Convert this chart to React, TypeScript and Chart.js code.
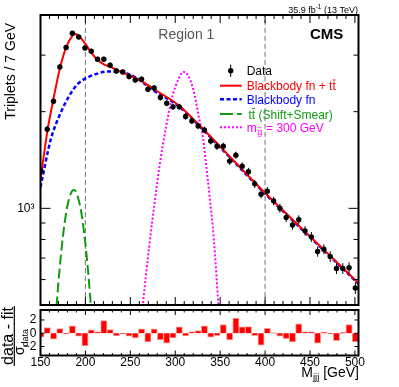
import React, { useEffect, useRef } from 'react';
import { Chart, registerables } from 'chart.js';

Chart.register(...registerables);

const FONT = '"Liberation Sans", Arial, Helvetica, sans-serif';

// ---- data ----
const binCenters = [150.5, 157.5, 164.5, 171.5, 178.5, 185.5, 192.5, 199.5, 206.5, 213.5, 220.5, 227.5, 234.5, 241.5, 248.5, 255.5, 262.5, 269.5, 276.5, 283.5, 290.5, 297.5, 304.5, 311.5, 318.5, 325.5, 332.5, 339.5, 346.5, 353.5, 360.5, 367.5, 374.5, 381.5, 388.5, 395.5, 402.5, 409.5, 416.5, 423.5, 430.5, 437.5, 444.5, 451.5, 458.5, 465.5, 472.5, 479.5, 486.5, 493.5, 500.5];
const dataCounts = [1308, 1764, 2156, 2756, 3168, 3509, 3418, 3158, 3084, 2912, 2912, 2790, 2678, 2659, 2573, 2511, 2523, 2349, 2369, 2214, 2125, 2070, 2070, 1932, 1872, 1806, 1755, 1622, 1561, 1561, 1403, 1464, 1353, 1301, 1192, 1107, 1131, 1055, 1001, 937, 887, 921, 851, 815, 734, 746, 708, 650, 650, 653, 565];
const dataErrors = [36, 42, 46, 52, 56, 59, 58, 56, 56, 54, 54, 53, 52, 52, 51, 50, 50, 48, 49, 47, 46, 45, 45, 44, 43, 42, 42, 40, 40, 40, 37, 38, 37, 36, 35, 33, 34, 32, 32, 31, 30, 30, 29, 29, 27, 27, 27, 25, 25, 26, 24];
const pulls = [-0.6, 0.85, -0.9, 0.7, -0.05, 1.1, -0.45, -1.9, 0.5, 0.2, 1.9, 0.55, -0.4, -0.05, -0.45, -0.7, 0.65, -1.3, 0.65, -1.0, -1.5, -0.7, 0.95, -0.4, 0.2, 0.4, 1.1, -0.6, -0.35, 1.3, -1.0, 2.3, 0.95, 1.0, -0.35, -1.8, 0.75, 0.05, -0.45, -0.8, -1.3, 1.4, 0.2, 0.2, -1.5, 0.15, -0.05, -1.1, 0.1, 1.3, -1.3];

const fitMass = [150, 157.5, 164.5, 171.5, 178.5, 185.5, 189, 192.5, 199.5, 206.5, 213.5, 220.5, 227.5, 234.5, 248.5, 262.5, 276.5, 304.7, 326.9, 360.3, 395.9, 438.2, 471.6, 504];
const fitValues = [1230, 1728, 2197, 2720, 3171, 3444, 3490, 3444, 3264, 3056, 2901, 2809, 2761, 2699, 2596, 2490, 2349, 2084, 1815, 1453, 1147, 880, 715, 585];

const bkgMass = [150, 161.5, 172.6, 181.9, 191.2, 202.3, 213.4, 224.6, 235.7, 246.8, 257.9, 272.7, 304.7, 326.9, 360.3, 395.9, 438.2, 471.6, 504];
const bkgValues = [1165, 1642, 1988, 2239, 2435, 2555, 2628, 2667, 2667, 2628, 2537, 2360, 2070, 1805, 1445, 1140, 875, 712, 582];

const ttbarMass = [155, 160, 165, 170, 175, 180, 185, 187, 190, 195, 200, 205, 210, 215];
const ttbarValues = [110, 216, 378, 589, 820, 1019, 1130, 1140, 1117, 985, 775, 544, 341, 190];

const signalMass = [258, 264, 271, 279, 282.5, 290, 297, 304, 309, 314, 320, 327, 331, 334.5, 338, 343, 348, 354];
const signalValues = [330, 503, 760, 1147, 1356, 1806, 2239, 2540, 2660, 2600, 2350, 1880, 1650, 1356, 1107, 800, 503, 300];

const regionEdges = [200, 400];
const X_MIN = 150;
const X_MAX = 504;
const Y_MIN = 500;
const Y_MAX = 4000;
const PULL_MIN = -3.35;
const PULL_MAX = 3.5;
const xMajorTicks = [150, 200, 250, 300, 350, 400, 450, 500];
const yUpperTicks = [600, 700, 800, 900, 1000, 2000, 3000];
const pullTicks = [-2, 0, 2];

const RED = '#ff0000';
const BLUE = '#0000ff';
const GREEN = '#109a10';
const MAGENTA = '#ff00ff';

function pts(xs: number[], ys: number[]) {
  return xs.map((x, i) => ({ x, y: ys[i] }));
}

function drawXTicks(ctx: CanvasRenderingContext2D, xs: any, area: any, majLen: number, minLen: number) {
  ctx.beginPath();
  for (let v = X_MIN; v <= X_MAX; v += 10) {
    const px = xs.getPixelForValue(v);
    const len = v % 50 === 0 ? majLen : minLen;
    ctx.moveTo(px, area.bottom);
    ctx.lineTo(px, area.bottom - len);
    ctx.moveTo(px, area.top);
    ctx.lineTo(px, area.top + len);
  }
  ctx.stroke();
}

function drawTTbar(ctx: CanvasRenderingContext2D, text: string, x: number, y: number) {
  ctx.textAlign = 'left';
  const wt = ctx.measureText('t').width;
  ctx.fillText('tt', x, y);
  ctx.save();
  ctx.strokeStyle = ctx.fillStyle as string;
  ctx.lineWidth = 1;
  ctx.beginPath();
  ctx.moveTo(x + wt + 0.3, y - 10);
  ctx.lineTo(x + 2 * wt - 0.2, y - 10);
  ctx.stroke();
  ctx.restore();
  ctx.fillText(text, x + 2 * wt, y);
}

function noPad(s: any) {
  s.paddingTop = 0;
  s.paddingBottom = 0;
  s.paddingLeft = 0;
  s.paddingRight = 0;
}

const upperPlugin = {
  id: 'upperDecor',
  afterDatasetsDraw(chart: any) {
    const { ctx } = chart;
    const xs = chart.scales.x;
    const ys = chart.scales.y;
    ctx.save();
    ctx.strokeStyle = '#000';
    ctx.lineWidth = 1;
    ctx.beginPath();
    binCenters.forEach((m, i) => {
      const px = xs.getPixelForValue(m);
      ctx.moveTo(px, ys.getPixelForValue(dataCounts[i] - dataErrors[i]));
      ctx.lineTo(px, ys.getPixelForValue(dataCounts[i] + dataErrors[i]));
    });
    ctx.stroke();
    ctx.restore();
  },
  afterDraw(chart: any) {
    const { ctx, chartArea: a } = chart;
    const xs = chart.scales.x;
    const ys = chart.scales.y;
    ctx.save();
    ctx.strokeStyle = '#000';
    ctx.lineWidth = 2;
    ctx.strokeRect(a.left, a.top, a.right - a.left, a.bottom - a.top);
    ctx.lineWidth = 1;
    drawXTicks(ctx, xs, a, 8, 4);
    ctx.beginPath();
    yUpperTicks.forEach((v) => {
      const py = ys.getPixelForValue(v);
      const len = v === 1000 ? 10 : 5;
      ctx.moveTo(a.left, py);
      ctx.lineTo(a.left + len, py);
      ctx.moveTo(a.right, py);
      ctx.lineTo(a.right - len, py);
    });
    ctx.stroke();

    // y title
    ctx.save();
    ctx.translate(0, 23);
    ctx.rotate(-Math.PI / 2);
    ctx.font = `14px ${FONT}`;
    ctx.fillStyle = '#000';
    ctx.textAlign = 'right';
    ctx.textBaseline = 'alphabetic';
    ctx.fillText('Triplets / 7 GeV', 0, 14.5);
    ctx.restore();

    // lumi text
    ctx.fillStyle = '#000';
    ctx.textBaseline = 'alphabetic';
    ctx.font = `9px ${FONT}`;
    const t1 = '35.9 fb';
    const t3 = ' (13 TeV)';
    const w1 = ctx.measureText(t1).width;
    const w3 = ctx.measureText(t3).width;
    ctx.font = `6.5px ${FONT}`;
    const t2 = '-1';
    const w2 = ctx.measureText(t2).width;
    const xEnd = 358;
    const x0 = xEnd - w1 - w2 - w3;
    ctx.textAlign = 'left';
    ctx.font = `9px ${FONT}`;
    ctx.fillText(t1, x0, 12.5);
    ctx.fillText(t3, x0 + w1 + w2, 12.5);
    ctx.font = `6.5px ${FONT}`;
    ctx.fillText(t2, x0 + w1, 9);

    ctx.font = `14px ${FONT}`;
    ctx.fillStyle = '#555555';
    ctx.fillText('Region 1', 158.3, 39);

    ctx.font = `bold 15px ${FONT}`;
    ctx.fillStyle = '#000';
    ctx.fillText('CMS', 310, 39.3);

    // legend
    const LX0 = 220;
    const LX1 = 241.7;
    const TX = 246.7;
    ctx.font = `12px ${FONT}`;
    ctx.fillStyle = '#000';
    ctx.beginPath();
    ctx.arc(230.7, 70.7, 2.7, 0, Math.PI * 2);
    ctx.fill();
    ctx.beginPath();
    ctx.moveTo(230.7, 64.5);
    ctx.lineTo(230.7, 77);
    ctx.stroke();
    ctx.fillText('Data', TX, 75);

    ctx.strokeStyle = RED;
    ctx.lineWidth = 2;
    ctx.beginPath();
    ctx.moveTo(LX0, 85.7);
    ctx.lineTo(LX1, 85.7);
    ctx.stroke();
    ctx.fillStyle = RED;
    const wbb = ctx.measureText('Blackbody fn + ').width;
    ctx.fillText('Blackbody fn + ', TX, 90);
    drawTTbar(ctx, '', TX + wbb, 90);

    ctx.strokeStyle = BLUE;
    ctx.lineWidth = 2.5;
    ctx.setLineDash([4, 2.5]);
    ctx.beginPath();
    ctx.moveTo(LX0, 99.3);
    ctx.lineTo(LX1, 99.3);
    ctx.stroke();
    ctx.fillStyle = BLUE;
    ctx.fillText('Blackbody fn', TX, 103.5);

    ctx.strokeStyle = GREEN;
    ctx.lineWidth = 2;
    ctx.setLineDash([13, 4]);
    ctx.beginPath();
    ctx.moveTo(LX0, 114);
    ctx.lineTo(LX1, 114);
    ctx.stroke();
    ctx.fillStyle = GREEN;
    drawTTbar(ctx, ' (Shift+Smear)', 248.5, 118.5);

    ctx.strokeStyle = MAGENTA;
    ctx.lineWidth = 2;
    ctx.setLineDash([2, 2]);
    ctx.beginPath();
    ctx.moveTo(LX0, 127.3);
    ctx.lineTo(LX1, 127.3);
    ctx.stroke();
    ctx.setLineDash([]);
    ctx.fillStyle = MAGENTA;
    ctx.font = `12px ${FONT}`;
    ctx.fillText('m', TX, 131.5);
    const wm = ctx.measureText('m').width;
    ctx.font = `8.5px ${FONT}`;
    ctx.fillText('g', TX + wm + 0.8, 135);
    const wg = ctx.measureText('g').width;
    ctx.font = `8px ${FONT}`;
    ctx.fillText('~', TX + wm + 0.8, 130);
    ctx.font = `12px ${FONT}`;
    ctx.fillText(' = 300 GeV', TX + wm + 0.8 + wg + 0.5, 131.5);

    ctx.restore();
  },
};

const lowerPlugin = {
  id: 'lowerDecor',
  afterDraw(chart: any) {
    const { ctx, chartArea: a } = chart;
    const xs = chart.scales.x;
    const ys = chart.scales.y;
    ctx.save();
    ctx.strokeStyle = '#000';
    ctx.lineWidth = 2;
    ctx.strokeRect(a.left, a.top, a.right - a.left, a.bottom - a.top);
    ctx.lineWidth = 1;
    drawXTicks(ctx, xs, a, 5, 2.5);
    ctx.beginPath();
    pullTicks.forEach((v) => {
      const py = ys.getPixelForValue(v);
      ctx.moveTo(a.left, py);
      ctx.lineTo(a.left + 4, py);
      ctx.moveTo(a.right, py);
      ctx.lineTo(a.right - 4, py);
    });
    ctx.stroke();

    // x title: M_jjj [GeV]
    ctx.fillStyle = '#000';
    ctx.textBaseline = 'alphabetic';
    ctx.textAlign = 'left';
    ctx.font = `14px ${FONT}`;
    const wM = ctx.measureText('M').width;
    const wG = ctx.measureText(' [GeV]').width;
    ctx.font = `9.5px ${FONT}`;
    const wj = ctx.measureText('jjj').width;
    const xr = 359;
    const xs0 = xr - wM - wj - wG;
    const base = 76.7;
    ctx.font = `14px ${FONT}`;
    ctx.fillText('M', xs0, base);
    ctx.fillText(' [GeV]', xs0 + wM + wj, base);
    ctx.font = `9.5px ${FONT}`;
    ctx.fillText('jjj', xs0 + wM, base + 3.5);

    // y title fraction
    ctx.save();
    ctx.translate(0, 36);
    ctx.rotate(-Math.PI / 2);
    ctx.font = `16px ${FONT}`;
    ctx.textAlign = 'center';
    ctx.fillText('data - fit', 0, 12.5);
    const wn = ctx.measureText('data - fit').width;
    ctx.strokeStyle = '#000';
    ctx.lineWidth = 1.2;
    ctx.beginPath();
    ctx.moveTo(-wn / 2 - 1, 14.3);
    ctx.lineTo(wn / 2 + 1, 14.3);
    ctx.stroke();
    ctx.restore();

    ctx.save();
    ctx.translate(0, 42);
    ctx.rotate(-Math.PI / 2);
    ctx.textAlign = 'left';
    ctx.font = `14px ${FONT}`;
    const ws = ctx.measureText('σ').width;
    ctx.font = `9px ${FONT}`;
    const wd = ctx.measureText('data').width;
    const u0 = -(ws + wd) / 2;
    ctx.font = `14px ${FONT}`;
    ctx.fillText('σ', u0, 23.5);
    ctx.font = `9px ${FONT}`;
    ctx.fillText('data', u0 + ws, 27.5);
    ctx.restore();

    ctx.restore();
  },
};

export default function App() {
  const upperRef = useRef<HTMLCanvasElement>(null);
  const lowerRef = useRef<HTMLCanvasElement>(null);

  useEffect(() => {
    const upper = new Chart(upperRef.current as HTMLCanvasElement, {
      type: 'line',
      data: {
        datasets: [
          {
            label: 'Data',
            data: pts(binCenters, dataCounts),
            showLine: false,
            pointRadius: 2.7,
            pointBackgroundColor: '#000',
            pointBorderColor: '#000',
            pointBorderWidth: 0,
            order: 0,
          } as any,
          {
            label: 'Blackbody fn + tt',
            data: pts(fitMass, fitValues),
            borderColor: RED,
            borderWidth: 2,
            pointRadius: 0,
            cubicInterpolationMode: 'monotone',
            order: 1,
          },
          {
            label: 'Blackbody fn',
            data: pts(bkgMass, bkgValues),
            borderColor: BLUE,
            borderWidth: 2.5,
            borderDash: [4, 2.5],
            pointRadius: 0,
            cubicInterpolationMode: 'monotone',
            order: 2,
          },
          {
            label: 'tt (Shift+Smear)',
            data: pts(ttbarMass, ttbarValues),
            borderColor: GREEN,
            borderWidth: 2,
            borderDash: [10, 4],
            pointRadius: 0,
            cubicInterpolationMode: 'monotone',
            order: 3,
          },
          {
            label: 'm = 300 GeV',
            data: pts(signalMass, signalValues),
            borderColor: MAGENTA,
            borderWidth: 2,
            borderDash: [2, 2],
            pointRadius: 0,
            cubicInterpolationMode: 'monotone',
            order: 4,
          },
          ...regionEdges.map((e) => ({
            label: 'edge',
            data: [
              { x: e, y: Y_MIN },
              { x: e, y: Y_MAX },
            ],
            borderColor: '#888888',
            borderWidth: 1.2,
            borderDash: [5, 3],
            pointRadius: 0,
            order: 5,
          })),
        ],
      },
      options: {
        animation: false,
        responsive: false,
        maintainAspectRatio: false,
        events: [],
        layout: { padding: { top: 15, right: 40.5, bottom: 2.5, left: 0 } },
        plugins: { legend: { display: false }, tooltip: { enabled: false } },
        scales: {
          x: { type: 'linear', min: X_MIN, max: X_MAX, display: false },
          y: {
            type: 'logarithmic',
            min: Y_MIN,
            max: Y_MAX,
            afterFit(s: any) {
              s.width = 40.5;
              noPad(s);
            },
            afterBuildTicks(s: any) {
              s.ticks = yUpperTicks.map((v) => ({ value: v }));
            },
            grid: { display: false, drawTicks: false },
            border: { display: false },
            ticks: {
              autoSkip: false,
              padding: 6,
              color: '#000',
              font: { family: FONT, size: 12 },
              callback: (v: any) => (Number(v) === 1000 ? '10³' : ''),
            },
          },
        },
      } as any,
      plugins: [upperPlugin],
    });

    const lower = new Chart(lowerRef.current as HTMLCanvasElement, {
      type: 'bar',
      data: {
        datasets: [
          {
            label: 'pull',
            data: pts(binCenters, pulls),
            backgroundColor: '#ff0000',
            borderColor: '#ff9a9a',
            borderWidth: 1,
            barPercentage: 1,
            categoryPercentage: 1,
          } as any,
        ],
      },
      options: {
        animation: false,
        responsive: false,
        maintainAspectRatio: false,
        events: [],
        layout: { padding: { top: 10, right: 40.5, bottom: 0, left: 0 } },
        plugins: { legend: { display: false }, tooltip: { enabled: false } },
        scales: {
          x: {
            type: 'linear',
            min: X_MIN,
            max: X_MAX,
            offset: false,
            afterFit(s: any) {
              s.height = 31.5;
              noPad(s);
            },
            afterBuildTicks(s: any) {
              s.ticks = xMajorTicks.map((v) => ({ value: v }));
            },
            grid: { display: false, drawTicks: false },
            border: { display: false },
            ticks: {
              autoSkip: false,
              maxRotation: 0,
              padding: 0,
              color: '#000',
              font: { family: FONT, size: 12 },
            },
          },
          y: {
            type: 'linear',
            min: PULL_MIN,
            max: PULL_MAX,
            afterFit(s: any) {
              s.width = 40.5;
              noPad(s);
            },
            afterBuildTicks(s: any) {
              s.ticks = pullTicks.map((v) => ({ value: v }));
            },
            grid: { display: false, drawTicks: false },
            border: { display: false },
            ticks: {
              autoSkip: false,
              padding: 4,
              color: '#000',
              font: { family: FONT, size: 12 },
              callback: (v: any) => (Number(v) < 0 ? '\u2212' + Math.abs(Number(v)) : String(v)),
            },
          },
        },
      } as any,
      plugins: [lowerPlugin],
    });

    return () => {
      upper.destroy();
      lower.destroy();
    };
  }, []);

  return (
    <div style={{ position: 'absolute', left: 0, top: 0, width: 399, height: 387, background: '#fff' }}>
      <canvas
        ref={upperRef}
        width={399}
        height={309}
        style={{ position: 'absolute', left: 0, top: 0, width: 399, height: 309 }}
      />
      <canvas
        ref={lowerRef}
        width={399}
        height={87}
        style={{ position: 'absolute', left: 0, top: 300, width: 399, height: 87 }}
      />
    </div>
  );
}
